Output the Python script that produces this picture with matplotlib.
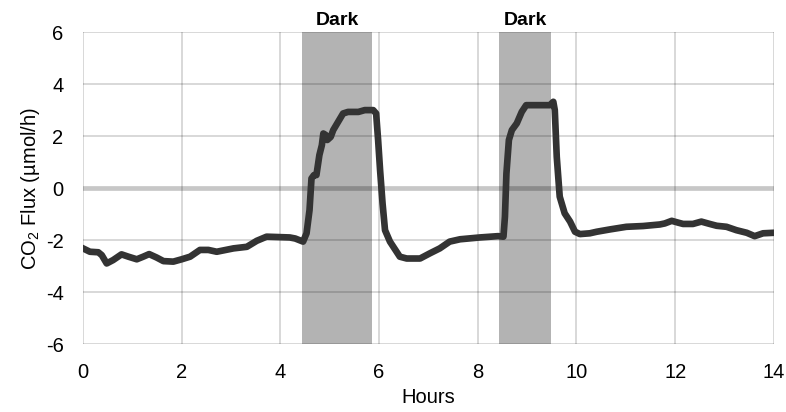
import matplotlib
matplotlib.use("Agg")
import matplotlib.pyplot as plt

plt.rcParams['font.family'] = ['Liberation Sans', 'DejaVu Sans']
plt.rcParams['mathtext.fontset'] = 'custom'
plt.rcParams['mathtext.rm'] = 'Liberation Sans'
plt.rcParams['axes.unicode_minus'] = False

# CO2 flux trace
hours = [0.0, 0.14, 0.31, 0.38, 0.48, 0.61, 0.78, 0.92, 1.09, 1.22, 1.34, 1.49,
         1.63, 1.83, 2.0, 2.17, 2.37, 2.54, 2.71, 3.05, 3.32, 3.52, 3.72, 4.19,
         4.30, 4.46, 4.53, 4.59, 4.63, 4.68, 4.73, 4.79, 4.84, 4.87, 4.92, 4.95,
         5.02, 5.07, 5.17, 5.27, 5.37, 5.58, 5.71, 5.88, 5.94, 5.98, 6.02, 6.07,
         6.12, 6.22, 6.42, 6.56, 6.83, 7.03, 7.23, 7.43, 7.64, 8.04, 8.41, 8.52,
         8.55, 8.58, 8.63, 8.69, 8.79, 8.89, 8.98, 9.46, 9.53, 9.56, 9.60, 9.66,
         9.76, 9.87, 9.97, 10.07, 10.27, 10.41, 10.68, 11.01, 11.35, 11.69, 11.79,
         11.93, 12.06, 12.16, 12.36, 12.53, 12.70, 12.84, 13.04, 13.24, 13.45,
         13.61, 13.78, 14.0]
flux = [-2.32, -2.45, -2.47, -2.58, -2.9, -2.77, -2.55, -2.64, -2.74, -2.64, -2.54, -2.67,
        -2.81, -2.83, -2.74, -2.64, -2.38, -2.38, -2.45, -2.32, -2.26, -2.03, -1.87, -1.9,
        -1.94, -2.06, -1.74, -0.85, 0.37, 0.5, 0.5, 1.27, 1.65, 2.1, 2.04, 1.85,
        1.97, 2.23, 2.55, 2.87, 2.93, 2.93, 3.0, 3.0, 2.87, 1.85, 0.69, -0.59,
        -1.62, -2.06, -2.64, -2.71, -2.71, -2.51, -2.32, -2.06, -1.97, -1.9, -1.85, -1.87,
        -1.10, 0.56, 1.85, 2.23, 2.49, 2.93, 3.19, 3.19, 3.32, 3.0, 1.2, -0.33,
        -0.97, -1.29, -1.68, -1.77, -1.74, -1.68, -1.59, -1.49, -1.46, -1.40, -1.36,
        -1.26, -1.33, -1.38, -1.38, -1.29, -1.38, -1.45, -1.49, -1.62, -1.72,
        -1.85, -1.74, -1.72]

dark_periods = [(4.44, 5.85), (8.43, 9.48)]
dark_label = "Dark"
xticks = [0, 2, 4, 6, 8, 10, 12, 14]
yticks = [-6, -4, -2, 0, 2, 4, 6]

fig = plt.figure(figsize=(7.86, 4.12), dpi=100)
ax = fig.add_axes([0.1056, 0.165, 0.879, 0.757])

for start, end in dark_periods:
    ax.axvspan(start, end, color='#b3b3b3', lw=0, zorder=0)
    ax.text((start + end) / 2, 6.12, dark_label, ha='center', va='bottom',
            fontsize=14, fontweight='bold')

ax.set_xlim(0, 14)
ax.set_ylim(-6, 6)
ax.set_xticks(xticks)
ax.set_yticks(yticks)
ax.grid(True, color='black', alpha=0.18, lw=1.2, zorder=2)
ax.set_axisbelow(False)
# the zero line replaces the plain gridline at 0
ax.yaxis.get_gridlines()[yticks.index(0)].set_visible(False)
ax.axhline(0, color='black', alpha=0.22, lw=3.4, zorder=2)

ax.plot(hours, flux, color='#333333', lw=4.8, solid_joinstyle='round', zorder=3)

for s in ax.spines.values():
    s.set_visible(False)
ax.tick_params(length=0, pad=14, labelsize=14.5)

ax.set_xlabel('Hours', fontsize=14.5, labelpad=4)
ax.set_ylabel('CO$_2$ Flux (µmol/h)', fontsize=14.5, labelpad=3)

fig.savefig("out.png", dpi=100)
